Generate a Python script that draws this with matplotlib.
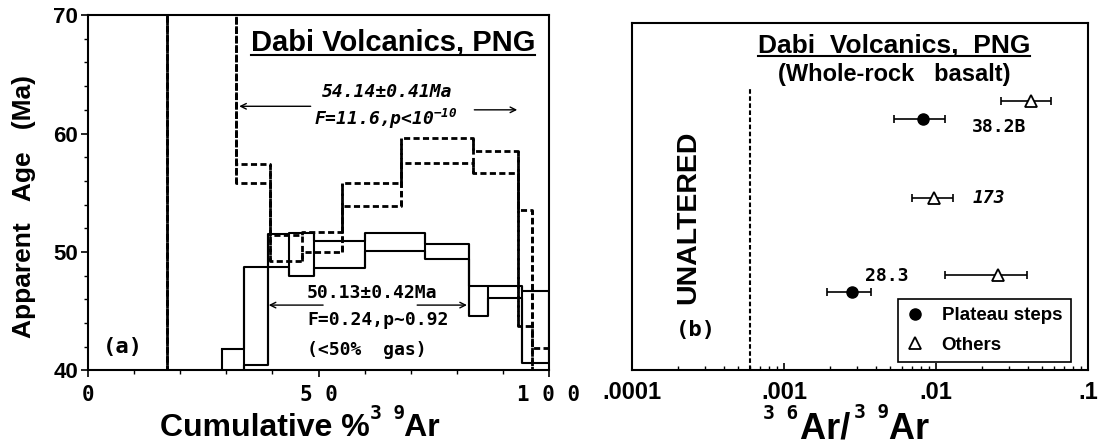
import numpy as np
import matplotlib.pyplot as plt

plt.rcParams['font.family'] = ['Liberation Sans', 'DejaVu Sans']
plt.rcParams['font.weight'] = 'bold'
plt.rcParams['axes.labelweight'] = 'bold'
plt.rcParams['mathtext.default'] = 'regular'

# --- (a) age spectra: step edges (cumulative %39Ar), box top / bottom (Ma) --- #
edges_solid = [29.1, 33.8, 39.0, 43.7, 49.1, 60.0, 73.2, 82.6, 86.7, 94.2, 100.0]
top_solid = [41.8, 48.7, 51.5, 51.6, 50.9, 51.6, 50.7, 47.1, 47.1, 46.7]
bot_solid = [39.0, 40.4, 48.7, 48.0, 48.6, 50.1, 49.4, 44.6, 46.1, 40.6]

edges_dash = [0.0, 17.2, 32.0, 39.4, 46.4, 55.2, 67.9, 83.6, 93.2, 96.3, 100.0]
top_dash = [37.0, 76.0, 57.4, 51.4, 51.7, 55.8, 59.6, 58.5, 53.5, 41.9]
bot_dash = [36.0, 74.0, 55.8, 49.2, 50.0, 53.9, 57.5, 56.7, 43.7, 38.0]

# --- (b) 36Ar/39Ar of individual steps --- #
ratio_val = [0.0419, 0.00824, 0.00975, 0.0257, 0.00281]
ratio_lo = [0.0267, 0.00527, 0.00694, 0.01154, 0.00191]
ratio_hi = [0.0574, 0.0114, 0.01285, 0.0397, 0.00373]
row_pos = [0.775, 0.725, 0.497, 0.274, 0.224]
is_plateau = [False, True, False, False, True]
unaltered_limit = 0.0006

mono = 'DejaVu Sans Mono'

fig = plt.figure(figsize=(11.04, 4.46), dpi=100)
ax1 = fig.add_axes([0.0797, 0.170, 0.4176, 0.796])
ax2 = fig.add_axes([0.5725, 0.170, 0.4130, 0.778])


def draw_spectrum(ax, edges, top, bot, ls, lw):
    edges = np.array(edges)
    top = np.array(top)
    bot = np.array(bot)
    ax.step(edges, np.append(top, top[-1]), where='post', color='k', ls=ls, lw=lw)
    ax.step(edges, np.append(bot, bot[-1]), where='post', color='k', ls=ls, lw=lw)
    lo = np.minimum(np.append(bot[0], bot), np.append(bot, bot[-1]))
    hi = np.maximum(np.append(top[0], top), np.append(top, top[-1]))
    ax.vlines(edges, lo, hi, color='k', ls=ls, lw=lw)


draw_spectrum(ax1, edges_solid, top_solid, bot_solid, '-', 1.5)
draw_spectrum(ax1, edges_dash, top_dash, bot_dash, (0, (2.2, 1.2)), 2.0)

ax1.set_xlim(0, 100)
ax1.set_ylim(40, 70)
ax1.set_xticks([0, 50, 100])
ax1.set_xticklabels(['0', '5 0', '1 0 0'], fontfamily=mono, fontsize=15)
ax1.set_xticks(np.arange(0, 101, 10), minor=True)
ax1.set_yticks([40, 50, 60, 70])
ax1.set_yticks(np.arange(40, 71, 2), minor=True)
ax1.tick_params(axis='y', labelsize=16, direction='out', length=5, width=1.2, pad=2)
ax1.tick_params(axis='x', direction='out', length=5, width=1.2, pad=6)
ax1.tick_params(which='minor', direction='out', length=3, width=1.0)
for s in ax1.spines.values():
    s.set_linewidth(1.5)

ax1.set_ylabel('Apparent   Age   (Ma)', fontsize=19)
ax1.yaxis.set_label_coords(-0.112, 0.46)
ax1.set_xlabel('Cumulative %    Ar', fontsize=23, labelpad=0)
ax1.xaxis.set_label_coords(0.46, -0.122)
ax1.annotate('3 9', xy=(0.875, 0.8), xycoords=ax1.xaxis.label, fontfamily=mono,
             fontsize=14, ha='right', va='baseline')

t1 = ax1.text(66.2, 67.7, 'Dabi Volcanics, PNG', fontsize=21, ha='center', va='center')

ax1.text(64.8, 63.5, '54.14±0.41Ma', fontfamily=mono, style='italic', fontsize=13,
         ha='center', va='center')
ax1.text(49.0, 61.2, r'F=11.6,p<10$^{-10}$', fontfamily=mono, style='italic', fontsize=13,
         ha='left', va='center')
arr = dict(arrowstyle='->', color='k', lw=1.0, shrinkA=0, shrinkB=0)
ax1.annotate('', xy=(32.8, 62.3), xytext=(48.3, 62.3), arrowprops=arr)
ax1.annotate('', xy=(93.1, 62.0), xytext=(83.8, 62.0), arrowprops=arr)

ax1.text(47.5, 46.5, '50.13±0.42Ma', fontfamily=mono, fontsize=13, ha='left', va='center')
ax1.text(47.5, 44.2, 'F=0.24,p~0.92', fontfamily=mono, fontsize=13, ha='left', va='center')
ax1.text(47.5, 41.7, '(<50%  gas)', fontfamily=mono, fontsize=13, ha='left', va='center')
ax1.annotate('', xy=(39.2, 45.5), xytext=(51.0, 45.5), arrowprops=arr)
ax1.annotate('', xy=(82.2, 45.5), xytext=(71.4, 45.5), arrowprops=arr)

ax1.text(7.5, 42.0, '(a)', fontfamily=mono, fontsize=16, ha='center', va='center')

# --- panel (b) --- #
for v, lo, hi, y, p in zip(ratio_val, ratio_lo, ratio_hi, row_pos, is_plateau):
    ax2.errorbar(v, y, xerr=[[v - lo], [hi - v]], fmt='none', ecolor='k',
                 elinewidth=1.2, capsize=3, capthick=1.2)

pv = [v for v, p in zip(ratio_val, is_plateau) if p]
py = [y for y, p in zip(row_pos, is_plateau) if p]
ov = [v for v, p in zip(ratio_val, is_plateau) if not p]
oy = [y for y, p in zip(row_pos, is_plateau) if not p]
ax2.plot(pv, py, 'o', color='k', ms=8, label='Plateau steps')
ax2.plot(ov, oy, '^', mfc='white', mec='k', mew=1.3, ms=8, label='Others')

ax2.vlines(unaltered_limit, 0, 0.81, color='k', ls=(0, (2.2, 1.2)), lw=1.5)

ax2.set_xscale('log')
ax2.set_xlim(1e-4, 0.1)
ax2.set_ylim(0, 1)
ax2.set_yticks([])
ax2.set_xticks([1e-4, 1e-3, 1e-2, 1e-1])
ax2.set_xticklabels(['.0001', '.001', '.01', '.1'], fontsize=17)
ax2.tick_params(axis='x', which='major', direction='in', length=5, width=1.2, pad=8)
ax2.tick_params(axis='x', which='minor', direction='in', length=3, width=1.0)
for s in ax2.spines.values():
    s.set_linewidth(1.5)
ax2.set_xlabel('Ar/    Ar', fontsize=26, labelpad=0)
ax2.xaxis.set_label_coords(0.51, -0.118)
ax2.annotate('3 6', xy=(-0.015, 0.78), xycoords=ax2.xaxis.label, fontfamily=mono,
             fontsize=14, ha='right', va='baseline')
ax2.annotate('3 9', xy=(0.69, 0.8), xycoords=ax2.xaxis.label, fontfamily=mono,
             fontsize=14, ha='right', va='baseline')

t2 = ax2.text(0.575, 0.935, 'Dabi  Volcanics,  PNG', fontsize=19, ha='center', va='center',
              transform=ax2.transAxes)
ax2.text(0.575, 0.852, '(Whole-rock   basalt)', fontsize=17, ha='center', va='center',
         transform=ax2.transAxes)
ax2.text(0.124, 0.44, 'UNALTERED', fontsize=20.5, rotation=90, ha='center', va='center',
         transform=ax2.transAxes)
ax2.text(0.14, 0.115, '(b)', fontfamily=mono, fontsize=16, ha='center', va='center',
         transform=ax2.transAxes)

ax2.text(0.746, 0.70, '38.2B', fontfamily=mono, fontsize=13, ha='left', va='center',
         transform=ax2.transAxes)
ax2.text(0.746, 0.496, '173', fontfamily=mono, style='italic', fontsize=13, ha='left',
         va='center', transform=ax2.transAxes)
ax2.text(0.512, 0.272, '28.3', fontfamily=mono, fontsize=13, ha='left', va='center',
         transform=ax2.transAxes)

leg = ax2.legend(loc='lower right', bbox_to_anchor=(0.962, 0.023), fontsize=13.5,
                 frameon=True, fancybox=False, edgecolor='k', framealpha=1,
                 handlelength=1.0, handletextpad=0.9, borderpad=0.45, labelspacing=0.65,
                 borderaxespad=0)
leg.get_frame().set_linewidth(1.2)

# underline the panel titles
fig.canvas.draw()
for ax, t in [(ax1, t1), (ax2, t2)]:
    bb = t.get_window_extent().transformed(ax.transAxes.inverted())
    ax.plot([bb.x0, bb.x1], [bb.y0 + 0.004, bb.y0 + 0.004], color='k', lw=1.5,
            transform=ax.transAxes, clip_on=False)

plt.savefig('out.png', dpi=100)
